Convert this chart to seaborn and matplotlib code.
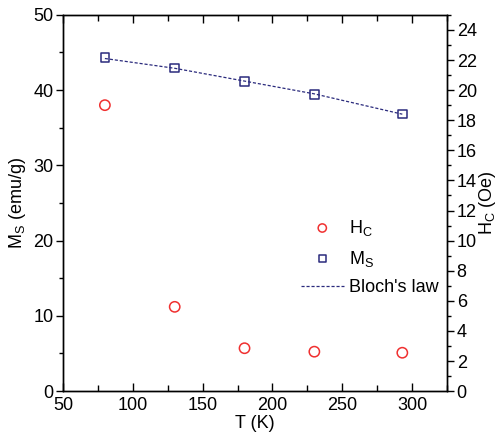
import numpy as np
import pandas as pd
import matplotlib
matplotlib.use('Agg')
import matplotlib.pyplot as plt
import seaborn as sns
from matplotlib.ticker import MultipleLocator

################################################################################

temperature = [80, 130, 180, 230, 293]
ms_values = [44.35, 42.95, 41.15, 39.45, 36.85]
hc_values = [19.0, 5.6, 2.85, 2.62, 2.55]
bloch_values = [44.2, 42.9, 41.2, 39.5, 36.8]

x_ticks = [50, 100, 150, 200, 250, 300]
left_ticks = [0, 10, 20, 30, 40, 50]
right_ticks = list(range(0, 25, 2))

################################################################################

sns.set_style('ticks')
plt.rcParams['font.family'] = ['Liberation Sans', 'DejaVu Sans']
plt.rcParams['mathtext.fontset'] = 'custom'
plt.rcParams['mathtext.rm'] = 'Liberation Sans'
plt.rcParams['mathtext.it'] = 'Liberation Sans'
for key in ['text.color', 'axes.labelcolor', 'xtick.color', 'ytick.color']:
    plt.rcParams[key] = 'black'

df = pd.DataFrame({'T': temperature, 'Ms': ms_values, 'Hc': hc_values, 'bloch': bloch_values})

navy = '#2b2b7d'
red = '#f03030'
fs = 13

fig = plt.figure(figsize = (5, 4.37), dpi = 100)
ax = fig.add_axes([0.126, 0.105, 0.768, 0.861])
ax2 = ax.twinx()

sns.lineplot(data = df, x = 'T', y = 'bloch', ax = ax, color = navy, lw = 0.9,
             linestyle = (0, (2.5, 1.5)), label = "Bloch's law", legend = False)
sns.scatterplot(data = df, x = 'T', y = 'Ms', ax = ax, marker = 's', s = 38,
                facecolor = 'none', edgecolor = navy, linewidth = 1.1, label = 'M$_S$', legend = False, zorder = 3)
sns.scatterplot(data = df, x = 'T', y = 'Hc', ax = ax2, marker = 'o', s = 55,
                facecolor = 'none', edgecolor = red, linewidth = 1.1, label = 'H$_C$', legend = False)

ax.set_xlim(50, 325)
ax.set_ylim(0, 50)
ax2.set_ylim(0, 25)

ax.set_xticks(x_ticks)
ax.set_yticks(left_ticks)
ax2.set_yticks(right_ticks)
ax.xaxis.set_minor_locator(MultipleLocator(25))
ax.yaxis.set_minor_locator(MultipleLocator(5))
ax2.yaxis.set_minor_locator(MultipleLocator(1))

ax.tick_params(axis = 'x', which = 'major', direction = 'in', top = True, length = 6, width = 1, labelsize = fs, pad = 4)
ax.tick_params(axis = 'x', which = 'minor', direction = 'in', top = True, length = 4, width = 1)
ax.tick_params(axis = 'y', which = 'major', direction = 'out', length = 5, width = 1, labelsize = fs, pad = 2)
ax.tick_params(axis = 'y', which = 'minor', direction = 'out', length = 3, width = 1)
ax2.tick_params(axis = 'y', which = 'major', direction = 'out', length = 5, width = 1, labelsize = fs, pad = 2)
ax2.tick_params(axis = 'y', which = 'minor', direction = 'out', length = 3, width = 1)

for a in (ax, ax2):
    for sp in a.spines.values():
        sp.set_linewidth(1)
        sp.set_color('black')

ax.set_xlabel('T (K)', fontsize = fs, labelpad = 1)
ax.set_ylabel('M$_S$ (emu/g)', fontsize = fs, labelpad = 4)
ax2.set_ylabel('H$_C$ (Oe)', fontsize = fs, labelpad = 0)

h1, l1 = ax.get_legend_handles_labels()
h2, l2 = ax2.get_legend_handles_labels()
handles = [h2[0], h1[1], h1[0]]
labels = [l2[0], l1[1], l1[0]]
ax2.legend(handles, labels, loc = 'upper left', bbox_to_anchor = (0.6, 0.48), frameon = False,
           fontsize = fs, handlelength = 2.4, handletextpad = 0.3, labelspacing = 0.6,
           borderaxespad = 0, markerscale = 0.8)

fig.savefig('out.png', dpi = 100)
